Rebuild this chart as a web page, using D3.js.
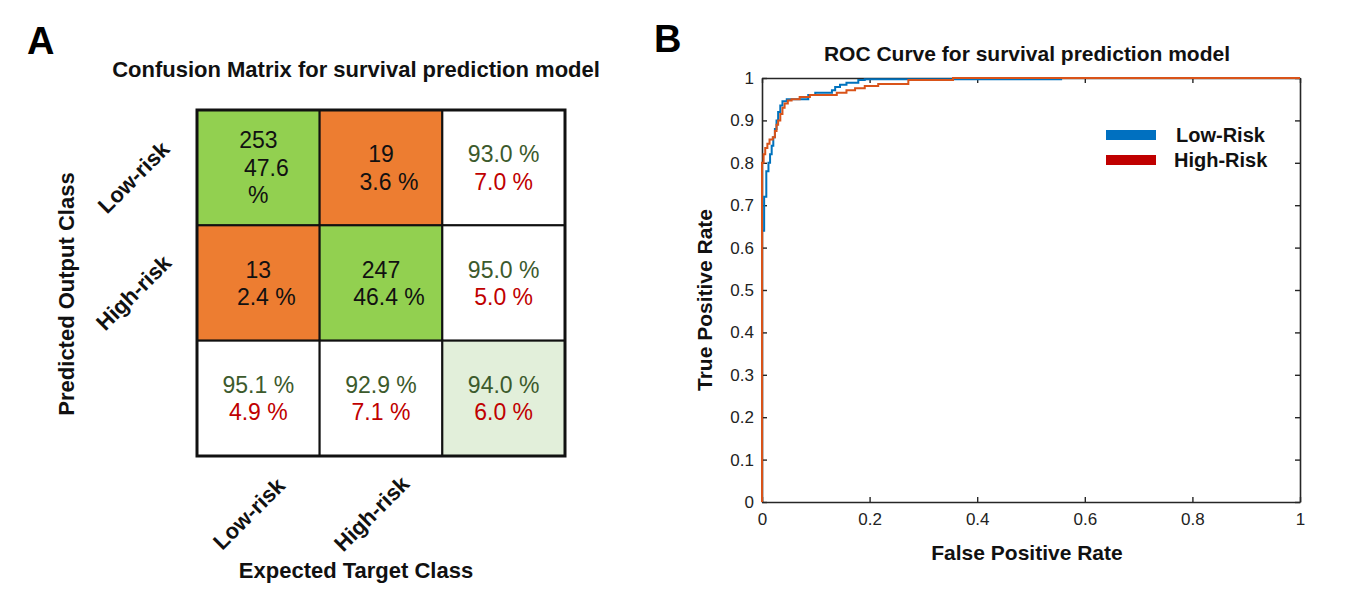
<!DOCTYPE html>
<html lang="en">
<head>
    <meta charset="UTF-8">
    <title>Confusion Matrix and ROC Curve</title>
    <script src="https://d3js.org/d3.v7.min.js"></script>
    <style>
        body {
            margin: 0;
            background-color: #fff;
            font-family: "Liberation Sans", Arial, sans-serif;
        }
        svg text {
            font-family: "Liberation Sans", Arial, sans-serif;
        }
        .panel-tag {
            font-size: 38px;
            font-weight: bold;
        }
        .title, .axis-title {
            font-size: 21px;
            font-weight: bold;
            fill: #111;
        }
        .cm-title {
            font-size: 22px;
        }
        .cell-text {
            font-size: 23px;
        }
        .legend text {
            font-size: 20px;
            font-weight: bold;
        }
    </style>
</head>
<body>
    <div id="chart"></div>

    <script>
        // confusion matrix values
        const classes = ["Low-risk", "High-risk"];
        const counts = [[253, 19], [13, 247]];
        const countPct = [[47.6, 3.6], [2.4, 46.4]];
        const rowCorrect = [93.0, 95.0];
        const rowWrong = [7.0, 5.0];
        const colCorrect = [95.1, 92.9];
        const colWrong = [4.9, 7.1];
        const overall = [94.0, 6.0];

        // ROC curves (false positive rate, true positive rate)
        const lowRiskFpr = [0, 0, 0.004, 0.008, 0.012, 0.015, 0.018, 0.021, 0.024, 0.027, 0.030, 0.034, 0.038, 0.046, 0.086, 0.099, 0.130, 0.136, 0.145, 0.157, 0.179, 0.191, 0.556, 1];
        const lowRiskTpr = [0, 0.64, 0.72, 0.78, 0.80, 0.82, 0.84, 0.86, 0.88, 0.90, 0.92, 0.935, 0.945, 0.95, 0.96, 0.965, 0.971, 0.979, 0.984, 0.989, 0.995, 0.997, 1, 1];
        const highRiskFpr = [0, 0, 0.003, 0.006, 0.010, 0.014, 0.020, 0.024, 0.027, 0.030, 0.034, 0.038, 0.042, 0.048, 0.055, 0.070, 0.089, 0.139, 0.157, 0.173, 0.191, 0.216, 0.272, 0.355, 1];
        const highRiskTpr = [0, 0.80, 0.82, 0.835, 0.845, 0.855, 0.86, 0.875, 0.89, 0.90, 0.915, 0.93, 0.94, 0.947, 0.95, 0.955, 0.96, 0.965, 0.971, 0.976, 0.981, 0.986, 0.995, 1, 1];
        const rocTicksX = [0, 0.2, 0.4, 0.6, 0.8, 1];
        const rocTicksY = [0, 0.1, 0.2, 0.3, 0.4, 0.5, 0.6, 0.7, 0.8, 0.9, 1];
        const legendNames = ["Low-Risk", "High-Risk"];

        const width = 1366, height = 598;
        const green = "#92d050", orange = "#ed7d31", lightGreen = "#e2efda";
        const goodText = "#3c5a2c", badText = "#c00000";
        const fmt = v => v.toFixed(1) + " %";

        const svg = d3.select("#chart").append("svg")
            .attr("width", width)
            .attr("height", height);

        svg.append("rect").attr("width", width).attr("height", height).attr("fill", "#fff");

        // ---------- panel A : confusion matrix ----------
        svg.append("text").attr("class", "panel-tag").attr("x", 27).attr("y", 54).text("A");

        const cx = d3.scaleBand().domain([0, 1, 2]).range([197, 565]);
        const cy = d3.scaleBand().domain([0, 1, 2]).range([110, 456]);

        svg.append("text").attr("class", "title cm-title")
            .attr("x", 356).attr("y", 77)
            .attr("text-anchor", "middle")
            .text("Confusion Matrix for survival prediction model");

        // build cell list
        const cells = [];
        for (let r = 0; r < 3; r++) {
            for (let c = 0; c < 3; c++) {
                let fill = "#fff", lines = [];
                if (r < 2 && c < 2) {
                    fill = r === c ? green : orange;
                    if (r === 0 && c === 0) {
                        lines = [
                            {t: String(counts[r][c]), col: "#111", dx: 0},
                            {t: countPct[r][c].toFixed(1), col: "#111", dx: 8},
                            {t: "%", col: "#111", dx: 0}
                        ];
                    } else {
                        lines = [
                            {t: String(counts[r][c]), col: "#111", dx: 0},
                            {t: fmt(countPct[r][c]), col: "#111", dx: 8}
                        ];
                    }
                } else if (r < 2) {
                    lines = [{t: fmt(rowCorrect[r]), col: goodText, dx: 0}, {t: fmt(rowWrong[r]), col: badText, dx: 0}];
                } else if (c < 2) {
                    lines = [{t: fmt(colCorrect[c]), col: goodText, dx: 0}, {t: fmt(colWrong[c]), col: badText, dx: 0}];
                } else {
                    fill = lightGreen;
                    lines = [{t: fmt(overall[0]), col: goodText, dx: 0}, {t: fmt(overall[1]), col: badText, dx: 0}];
                }
                cells.push({r, c, fill, lines});
            }
        }

        const cellG = svg.append("g").selectAll("g")
            .data(cells)
            .enter()
            .append("g");

        cellG.append("rect")
            .attr("x", d => cx(d.c))
            .attr("y", d => cy(d.r))
            .attr("width", cx.bandwidth())
            .attr("height", cy.bandwidth())
            .attr("fill", d => d.fill)
            .attr("stroke", "#111")
            .attr("stroke-width", 2);

        cellG.each(function (d) {
            const g = d3.select(this);
            const mid = cy(d.r) + cy.bandwidth() / 2;
            const lh = 27.5;
            const first = mid - 5.5 - (d.lines.length - 2) * lh / 2;
            d.lines.forEach((ln, i) => {
                g.append("text")
                    .attr("class", "cell-text")
                    .attr("x", cx(d.c) + cx.bandwidth() / 2 + ln.dx)
                    .attr("y", first + i * lh)
                    .attr("text-anchor", "middle")
                    .attr("fill", ln.col)
                    .text(ln.t);
            });
        });

        svg.append("rect")
            .attr("x", 197).attr("y", 110)
            .attr("width", 368).attr("height", 346)
            .attr("fill", "none")
            .attr("stroke", "#111")
            .attr("stroke-width", 3);

        // class labels, rotated
        svg.append("g").selectAll("text")
            .data(classes)
            .enter()
            .append("text")
            .attr("class", "axis-title cm-title")
            .attr("text-anchor", "middle")
            .attr("transform", (d, i) => `translate(139,${cy(i) + cy.bandwidth() / 2 + 15}) rotate(-45)`)
            .text(d => d);

        svg.append("g").selectAll("text")
            .data(classes)
            .enter()
            .append("text")
            .attr("class", "axis-title cm-title")
            .attr("text-anchor", "middle")
            .attr("transform", (d, i) => `translate(${cx(i) + cx.bandwidth() / 2 - 4},519) rotate(-45)`)
            .text(d => d);

        svg.append("text").attr("class", "axis-title cm-title")
            .attr("text-anchor", "middle")
            .attr("transform", "translate(74,294) rotate(-90)")
            .text("Predicted Output Class");

        svg.append("text").attr("class", "axis-title cm-title")
            .attr("x", 356).attr("y", 578)
            .attr("text-anchor", "middle")
            .text("Expected Target Class");

        // ---------- panel B : ROC curve ----------
        svg.append("text").attr("class", "panel-tag").attr("x", 654).attr("y", 52).text("B");

        const x = d3.scaleLinear().domain([0, 1]).range([762, 1300]);
        const y = d3.scaleLinear().domain([0, 1]).range([502, 78]);
        const tickFmt = d3.format("~g");

        const axisColor = "#262626";
        const styleAxis = g => {
            g.attr("font-size", null).attr("font-family", null);
            g.selectAll(".domain").attr("stroke", axisColor).attr("stroke-width", 1.6);
            g.selectAll(".tick line").attr("stroke", axisColor).attr("stroke-width", 1.4);
            g.selectAll(".tick text")
                .style("font-size", "17px")
                .style("font-family", "'Liberation Sans', Arial, sans-serif")
                .attr("fill", "#222");
        };

        svg.append("g")
            .attr("transform", "translate(0,502)")
            .call(d3.axisBottom(x).tickValues(rocTicksX).tickFormat(tickFmt).tickSize(-5).tickSizeOuter(0).tickPadding(11))
            .call(styleAxis);
        svg.append("g")
            .attr("transform", "translate(0,78)")
            .call(d3.axisTop(x).tickValues(rocTicksX).tickFormat("").tickSize(-5).tickSizeOuter(0))
            .call(styleAxis);
        svg.append("g")
            .attr("transform", "translate(762,0)")
            .call(d3.axisLeft(y).tickValues(rocTicksY).tickFormat(tickFmt).tickSize(-5).tickSizeOuter(0).tickPadding(8))
            .call(styleAxis);
        svg.append("g")
            .attr("transform", "translate(1300,0)")
            .call(d3.axisRight(y).tickValues(rocTicksY).tickFormat("").tickSize(-5).tickSizeOuter(0))
            .call(styleAxis);

        const line = d3.line()
            .x(d => x(d[0]))
            .y(d => y(d[1]))
            .curve(d3.curveStepAfter);

        const curves = [
            {pts: d3.zip(lowRiskFpr, lowRiskTpr), color: "#0072bd"},
            {pts: d3.zip(highRiskFpr, highRiskTpr), color: "#d95319"}
        ];

        svg.append("g").selectAll("path")
            .data(curves)
            .enter()
            .append("path")
            .attr("d", d => line(d.pts))
            .attr("fill", "none")
            .attr("stroke", d => d.color)
            .attr("stroke-width", 2);

        svg.append("text").attr("class", "title")
            .attr("x", 1027).attr("y", 61)
            .attr("text-anchor", "middle")
            .text("ROC Curve for survival prediction model");

        svg.append("text").attr("class", "axis-title")
            .attr("x", 1027).attr("y", 560)
            .attr("text-anchor", "middle")
            .text("False Positive Rate");

        svg.append("text").attr("class", "axis-title")
            .attr("text-anchor", "middle")
            .attr("transform", "translate(712,300) rotate(-90)")
            .text("True Positive Rate");

        const legend = svg.append("g").attr("class", "legend");
        const legendColors = ["#0070c0", "#c00000"];
        const ly = d3.scalePoint().domain(legendNames).range([135, 160]);

        legend.selectAll("rect")
            .data(legendNames)
            .enter()
            .append("rect")
            .attr("x", 1106)
            .attr("y", d => ly(d) - 5)
            .attr("width", 50)
            .attr("height", 10)
            .attr("fill", (d, i) => legendColors[i]);

        legend.selectAll("text")
            .data(legendNames)
            .enter()
            .append("text")
            .attr("x", (d, i) => i === 0 ? 1176 : 1174)
            .attr("y", d => ly(d) + 7)
            .attr("fill", "#111")
            .text(d => d);
    </script>
</body>
</html>
